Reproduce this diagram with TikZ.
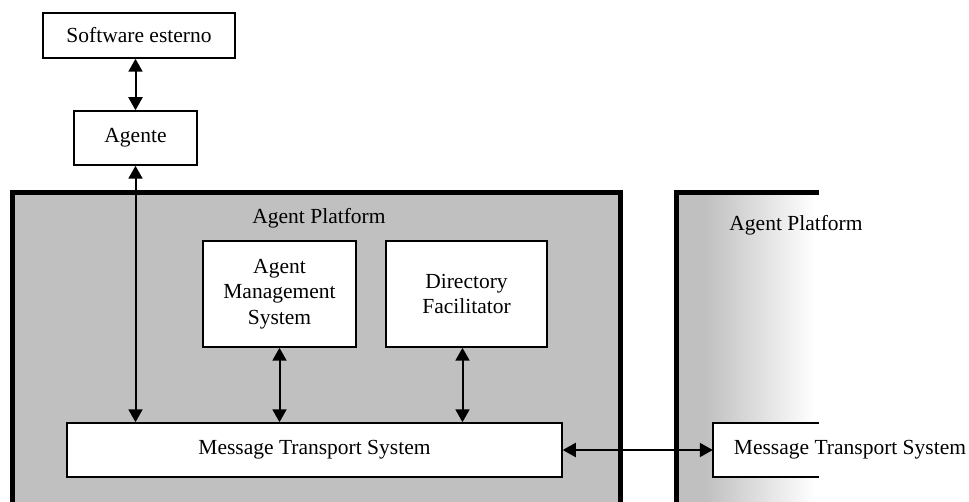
\documentclass[tikz,border=0pt]{standalone}
\usepackage{fontspec}
\setmainfont{Liberation Serif}
\usetikzlibrary{arrows.meta}
\definecolor{platgray}{RGB}{192,192,192}
\tikzset{
  box/.style={draw=black, line width=1.5pt, fill=white, inner sep=0pt, align=center,
    font=\fontsize{21.5}{25.5}\selectfont},
  lbl/.style={inner sep=0pt, font=\fontsize{21.5}{25.5}\selectfont},
  conn/.style={line width=2pt, {Triangle[length=13pt,width=14pt]}-{Triangle[length=13pt,width=14pt]}},
  platborder/.style={line width=5pt}
}
\begin{document}
\begin{tikzpicture}[x=1pt,y=-1pt]
\useasboundingbox (0,0) rectangle (969,502);
\fill[white] (0,0) rectangle (969,502);
% left platform
\fill[platgray] (12,193) rectangle (620,505);
\draw[platborder] (12,505) -- (12,193) -- (620,193) -- (620,505);
% right platform
\fill[platgray] (676,193) rectangle (706,505);
\shade[left color=platgray, right color=white] (705,193) rectangle (815,505);
\draw[platborder] (676,505) -- (676,193) -- (819,193);
\node[lbl] (ap1) at (319,218) {Agent Platform};
\node[lbl] (ap2) at (796,225) {Agent Platform};
% boxes
\node[box, minimum width=192pt, minimum height=45pt] (sw) at (139,35.5) {Software esterno};
\node[box, minimum width=123pt, minimum height=54pt] (ag) at (135.5,138) {Agente};
\node[box, minimum width=153pt, minimum height=106pt] (ams) at (279.5,294) {Agent\\Management\\System};
\node[box, minimum width=161pt, minimum height=106pt] (df) at (466.5,294) {Directory\\Facilitator};
\node[box, minimum width=495pt, minimum height=54pt] (mts) at (314.5,450) {Message Transport System};
% right MTS (partially visible box)
\node[fill=white, inner sep=0pt, minimum width=106pt, minimum height=54pt] (mts2) at (766,450) {};
\draw[line width=1.5pt] (mts2.north east) -- (mts2.north west) -- (mts2.south west) -- (mts2.south east);
\node[lbl] (mts2t) at (850,450) {Message Transport System};
% connectors
\draw[conn] (ag.north) -- (ag.north |- sw.south);
\draw[conn] (ag.south) -- (ag.south |- mts.north);
\draw[conn] (ams.south) -- (ams.south |- mts.north);
\draw[conn] ([xshift=-4pt]df.south) -- ([xshift=-4pt]df.south |- mts.north);
\draw[conn] (mts.east) -- (mts2.west);
\end{tikzpicture}
\end{document}
